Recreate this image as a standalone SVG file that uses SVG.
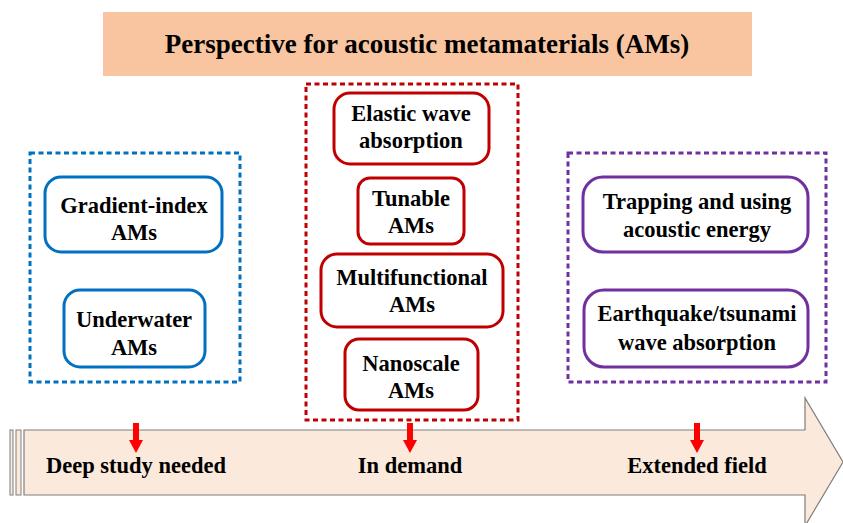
<svg xmlns="http://www.w3.org/2000/svg" width="843" height="523" viewBox="0 0 843 523">
<defs>
<style>
text{font-family:'Liberation Serif','Times New Roman',serif;font-weight:700;fill:#000;text-anchor:middle}
.n{font-size:22.5px}
.blue{fill:#fff;stroke:#0070C0;stroke-width:3}
.red{fill:#fff;stroke:#C00000;stroke-width:3}
.pur{fill:#fff;stroke:#7030A0;stroke-width:3}
.dash{fill:none;stroke-width:3;stroke-dasharray:5 3.5}
.ra{fill:#FF0000}
</style>
</defs>
<rect width="843" height="523" fill="#fff"/>
<g id="title">
<rect x="103" y="12" width="649" height="64" fill="#F8C5A0"/>
<text x="427" y="53" style="font-size:27px">Perspective for acoustic metamaterials (AMs)</text>
</g>
<g id="timeline">
<rect x="10" y="430" width="3" height="65" fill="#FBE9DB" stroke="#7F7F7F" stroke-width="1"/>
<rect x="16" y="430" width="5" height="65" fill="#FBE9DB" stroke="#7F7F7F" stroke-width="1"/>
<path d="M24,430 H805 V398 L843,462 L805,526 V495 H24 Z" fill="#FBE9DB" stroke="#7F7F7F" stroke-width="1.2"/>
<text class="n" x="136" y="473">Deep study needed</text>
<text class="n" x="410" y="473">In demand</text>
<text class="n" x="697" y="473">Extended field</text>
</g>
<g id="group-left">
<rect class="dash" x="30" y="153" width="210" height="229" stroke="#0070C0"/>
</g>
<g id="group-mid">
<rect class="dash" x="306" y="84" width="212" height="336" stroke="#C00000"/>
</g>
<g id="group-right">
<rect class="dash" x="568" y="153" width="258" height="229" stroke="#7030A0"/>
</g>
<g id="gradient-index">
<rect class="blue" x="45" y="177" width="177" height="75" rx="16"/>
<text class="n" x="134" y="213">Gradient-index</text>
<text class="n" x="134" y="240">AMs</text>
</g>
<g id="underwater">
<rect class="blue" x="64" y="290" width="141" height="77" rx="16"/>
<text class="n" x="134" y="327">Underwater</text>
<text class="n" x="134" y="355">AMs</text>
</g>
<g id="elastic">
<rect class="red" x="334" y="93" width="155" height="71" rx="16"/>
<text class="n" x="411" y="121">Elastic wave</text>
<text class="n" x="411" y="148">absorption</text>
</g>
<g id="tunable">
<rect class="red" x="358" y="178" width="106" height="66" rx="12"/>
<text class="n" x="411" y="206">Tunable</text>
<text class="n" x="411" y="233">AMs</text>
</g>
<g id="multifunctional">
<rect class="red" x="321" y="254" width="182" height="73" rx="16"/>
<text class="n" x="412" y="285">Multifunctional</text>
<text class="n" x="412" y="312">AMs</text>
</g>
<g id="nanoscale">
<rect class="red" x="345" y="339" width="133" height="71" rx="14"/>
<text class="n" x="411" y="371">Nanoscale</text>
<text class="n" x="411" y="398">AMs</text>
</g>
<g id="trapping">
<rect class="pur" x="583" y="177" width="225" height="75" rx="20"/>
<text class="n" x="697" y="209">Trapping and using</text>
<text class="n" x="697" y="237">acoustic energy</text>
</g>
<g id="earthquake">
<rect class="pur" x="584" y="290" width="224" height="77" rx="20"/>
<text class="n" x="697" y="321">Earthquake/tsunami</text>
<text class="n" x="697" y="350">wave absorption</text>
</g>
<g id="connectors">
<path class="ra" d="M133,423 H139 V440 H143 L136,453 L129,440 H133 Z"/>
<path class="ra" d="M407,423 H413 V440 H417 L410,453 L403,440 H407 Z"/>
<path class="ra" d="M694,423 H700 V440 H704 L697,453 L690,440 H694 Z"/>
</g>
</svg>
